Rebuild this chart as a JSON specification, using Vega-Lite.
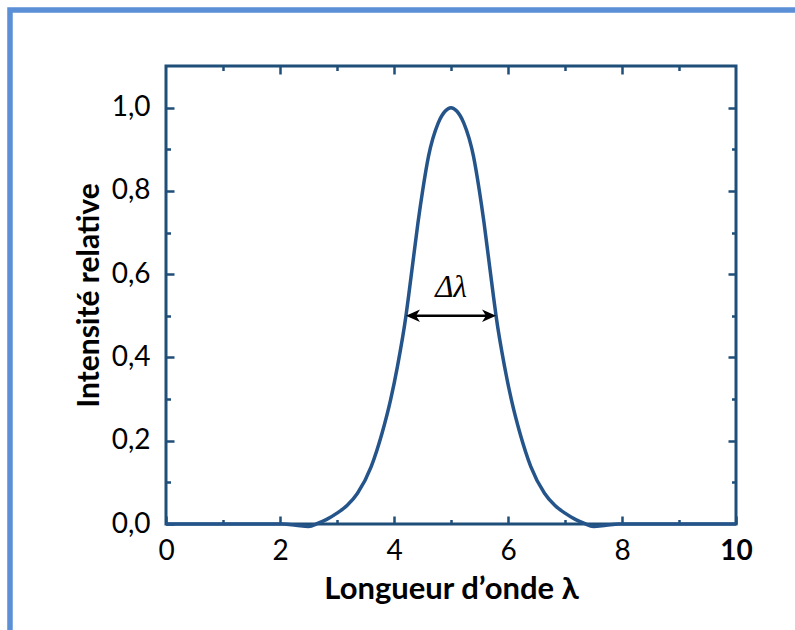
{
  "$schema": "https://vega.github.io/schema/vega-lite/v6.json",
  "width": 570,
  "height": 458,
  "autosize": "none",
  "padding": {"left": 166, "top": 66, "right": 59, "bottom": 106},
  "background": "white",
  "datasets": {
    "curve": [
      {"x": 0, "y": 0}, {"x": 1, "y": 0}, {"x": 1.8, "y": 0}, {"x": 2.05, "y": 0},
      {"x": 2.28, "y": -0.003}, {"x": 2.5, "y": -0.006}, {"x": 2.67, "y": 0.002},
      {"x": 2.82, "y": 0.011}, {"x": 3.0, "y": 0.026}, {"x": 3.18, "y": 0.045},
      {"x": 3.36, "y": 0.074}, {"x": 3.6, "y": 0.138}, {"x": 3.79, "y": 0.218},
      {"x": 3.94, "y": 0.298}, {"x": 4.06, "y": 0.378}, {"x": 4.21, "y": 0.5},
      {"x": 4.27, "y": 0.5625}, {"x": 4.345, "y": 0.643}, {"x": 4.42, "y": 0.723},
      {"x": 4.505, "y": 0.803}, {"x": 4.605, "y": 0.883}, {"x": 4.775, "y": 0.963},
      {"x": 4.9, "y": 0.992}, {"x": 5.0, "y": 1.0}, {"x": 5.1, "y": 0.992},
      {"x": 5.225, "y": 0.963}, {"x": 5.395, "y": 0.883}, {"x": 5.495, "y": 0.803},
      {"x": 5.58, "y": 0.723}, {"x": 5.655, "y": 0.643}, {"x": 5.73, "y": 0.5625},
      {"x": 5.79, "y": 0.5}, {"x": 5.94, "y": 0.378}, {"x": 6.06, "y": 0.298},
      {"x": 6.21, "y": 0.218}, {"x": 6.4, "y": 0.138}, {"x": 6.64, "y": 0.074},
      {"x": 6.82, "y": 0.045}, {"x": 7.0, "y": 0.026}, {"x": 7.18, "y": 0.011},
      {"x": 7.33, "y": 0.002}, {"x": 7.5, "y": -0.006}, {"x": 7.72, "y": -0.003},
      {"x": 7.95, "y": 0}, {"x": 8.2, "y": 0}, {"x": 9, "y": 0}, {"x": 10, "y": 0}
    ],
    "arrow": [{"x1": 4.27, "x2": 5.73, "y": 0.5}],
    "heads": [{"x": 4.21, "y": 0.5, "dir": "left"}, {"x": 5.79, "y": 0.5, "dir": "right"}],
    "label": [{"x": 5, "y": 0.566, "text": "Δλ"}]
  },
  "layer": [
    {
      "data": {"values": [{}]},
      "mark": {"type": "rect", "fillOpacity": 0, "stroke": "#5B8FD6", "strokeWidth": 5.5},
      "encoding": {
        "x": {"datum": -2.737, "type": "quantitative", "scale": {"domain": [0, 10], "nice": false}, "axis": null},
        "x2": {"datum": 12},
        "y": {"datum": 1.2345, "type": "quantitative", "scale": {"domain": [0, 1.1], "nice": false}, "axis": null},
        "y2": {"datum": -0.5}
      }
    },
    {
      "data": {"name": "curve"},
      "mark": {"type": "line", "color": "#24548A", "strokeWidth": 3.5, "interpolate": "monotone"},
      "encoding": {
        "x": {
          "field": "x", "type": "quantitative",
          "scale": {"domain": [0, 10], "nice": false},
          "axis": {
            "orient": "bottom", "values": [0, 2, 4, 6, 8, 10], "format": "d",
            "tickSize": -8, "labelPadding": 21, "labelFlush": false,
            "labelFontWeight": {"condition": {"test": "datum.value === 10", "value": "bold"}, "value": "normal"},
            "title": "Longueur d’onde λ", "titlePadding": 9, "titleFontSize": 31
          }
        },
        "y": {
          "field": "y", "type": "quantitative",
          "scale": {"domain": [0, 1.1], "nice": false},
          "axis": {
            "orient": "left", "values": [0, 0.2, 0.4, 0.6, 0.8, 1.0],
            "labelExpr": "replace(format(datum.value, '.1f'), '.', ',')",
            "tickSize": -8, "labelPadding": 24,
            "title": "Intensité relative", "titlePadding": 7, "titleFontSize": 30
          }
        }
      }
    },
    {
      "data": {"name": "arrow"},
      "mark": {"type": "rule", "color": "#000000", "strokeWidth": 2.5},
      "encoding": {
        "x": {
          "field": "x1", "type": "quantitative",
          "scale": {"domain": [0, 10], "nice": false},
          "axis": {"orient": "bottom", "values": [1, 3, 5, 7, 9], "tickSize": -4.5, "labels": false, "title": null}
        },
        "x2": {"field": "x2"},
        "y": {
          "field": "y", "type": "quantitative",
          "scale": {"domain": [0, 1.1], "nice": false},
          "axis": {"orient": "left", "values": [0.1, 0.3, 0.5, 0.7, 0.9], "tickSize": -4.5, "labels": false, "title": null}
        }
      }
    },
    {
      "data": {"name": "heads"},
      "mark": {"type": "point", "filled": true, "color": "#000000", "opacity": 1, "size": 784},
      "encoding": {
        "x": {
          "field": "x", "type": "quantitative",
          "scale": {"domain": [0, 10], "nice": false},
          "axis": {"orient": "top", "values": [2, 4, 6, 8], "tickSize": -8, "labels": false, "title": null}
        },
        "y": {
          "field": "y", "type": "quantitative",
          "scale": {"domain": [0, 1.1], "nice": false},
          "axis": {"orient": "right", "values": [0.2, 0.4, 0.6, 0.8, 1.0], "tickSize": -8, "labels": false, "title": null}
        },
        "shape": {
          "field": "dir", "type": "nominal",
          "scale": {"domain": ["left", "right"], "range": ["M0,0L1,-0.45L0.72,0L1,0.45Z", "M0,0L-1,-0.45L-0.72,0L-1,0.45Z"]},
          "legend": null
        }
      }
    },
    {
      "data": {"name": "label"},
      "mark": {"type": "text", "font": "Liberation Serif", "fontStyle": "italic", "fontSize": 31, "color": "#000000", "align": "center", "baseline": "middle"},
      "encoding": {
        "x": {
          "field": "x", "type": "quantitative",
          "scale": {"domain": [0, 10], "nice": false},
          "axis": {"orient": "top", "values": [1, 3, 5, 7, 9], "tickSize": -4.5, "labels": false, "title": null}
        },
        "y": {
          "field": "y", "type": "quantitative",
          "scale": {"domain": [0, 1.1], "nice": false},
          "axis": {"orient": "right", "values": [0.1, 0.3, 0.5, 0.7, 0.9], "tickSize": -4.5, "labels": false, "title": null}
        },
        "text": {"field": "text"}
      }
    }
  ],
  "resolve": {"axis": {"x": "independent", "y": "independent"}},
  "config": {
    "view": {"stroke": "#1F4E79", "strokeWidth": 3},
    "axis": {
      "grid": false, "domain": false,
      "tickColor": "#1F4E79", "tickWidth": 2.5,
      "labelFont": "Lato", "labelFontSize": 28, "labelColor": "#000000",
      "titleFont": "Lato", "titleFontSize": 29, "titleFontWeight": "bold", "titleColor": "#000000"
    }
  }
}
